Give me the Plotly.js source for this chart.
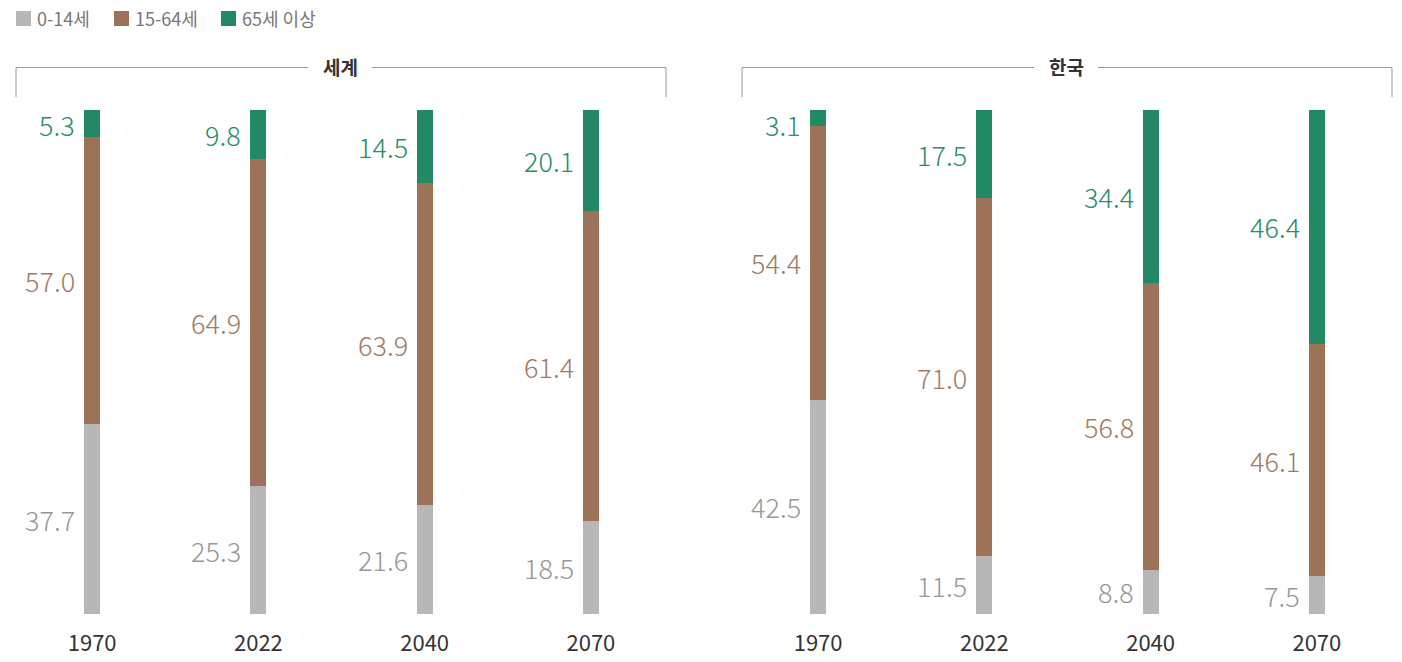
<!DOCTYPE html>
<html><head><meta charset="utf-8">
<script src="https://cdn.plot.ly/plotly-3.0.1.min.js"></script>
<style>html,body{margin:0;padding:0;background:#fff}#chart{width:1402px;height:662px}</style>
</head><body><div id="chart"></div>
<script>
const years = ["1970", "2022", "2040", "2070"];
const groups = ["세계", "한국"];
const seriesNames = ["0-14세", "15-64세", "65세 이상"];
const world_0_14 = [37.7, 25.3, 21.6, 18.5];
const world_15_64 = [57.0, 64.9, 63.9, 61.4];
const world_65 = [5.3, 9.8, 14.5, 20.1];
const korea_0_14 = [42.5, 11.5, 8.8, 7.5];
const korea_15_64 = [54.4, 71.0, 56.8, 46.1];
const korea_65 = [3.1, 17.5, 34.4, 46.4];

const barColors = ["#b6b7b6", "#9c7259", "#218a64"];
const labelColors = ["#979797", "#a07a62", "#2a8c68"];
const FONT = "'Noto Sans CJK KR', 'Noto Sans', sans-serif";

const W = 1402, H = 662, T = 110, B = 48;
const PH = H - T - B;
const px = v => v / W;
const py = v => (H - B - v) / PH;

const data = [];
const annotations = [];
const shapes = [];
const groupSeries = [[world_0_14, world_15_64, world_65], [korea_0_14, korea_15_64, korea_65]];
groupSeries.forEach((ser, g) => {
  const xa = g === 0 ? "x" : "x2";
  const ya = g === 0 ? "y" : "y2";
  ser.forEach((vals, s) => {
    data.push({
      type: "bar", x: years, y: vals, xaxis: xa, yaxis: ya,
      name: seriesNames[s], showlegend: false,
      marker: {color: barColors[s], line: {width: 0}},
      width: 0.096, hoverinfo: "skip"
    });
    vals.forEach((v, i) => {
      let base = 0;
      for (let k = 0; k < s; k++) base += ser[k][i];
      // keep labels of very thin top segments from rising above the bar top
      const yMid = Math.min(base + v / 2, 97.2);
      annotations.push({
        xref: xa, yref: ya, x: i, y: yMid,
        text: v.toFixed(1), showarrow: false, xanchor: "right", yanchor: "middle",
        xshift: -15, font: {family: FONT, size: 27, color: labelColors[s], weight: 300}
      });
    });
  });
});

// group brackets
const brackets = [[16, 666, 340], [742, 1392, 1066]];
brackets.forEach((b, g) => {
  const [x0, x1, xc] = b;
  const gap = 32;
  const mk = (xa, ya, xb, yb) => ({type: "line", xref: "paper", yref: "paper",
    x0: px(xa), x1: px(xb), y0: py(ya), y1: py(yb),
    line: {color: "#9a9a9a", width: 1}});
  shapes.push(mk(x0, 97, x0, 67.5));
  shapes.push(mk(x0, 67.5, xc - gap, 67.5));
  shapes.push(mk(xc + gap, 67.5, x1, 67.5));
  shapes.push(mk(x1, 67.5, x1, 97));
  annotations.push({xref: "paper", yref: "paper", x: px(xc), y: py(66),
    text: "<b>" + groups[g] + "</b>", showarrow: false, xanchor: "center", yanchor: "middle",
    font: {family: FONT, size: 19, color: "#333333"}});
});

// custom legend
const legendX = [16, 114, 221];
seriesNames.forEach((n, s) => {
  shapes.push({type: "rect", xref: "paper", yref: "paper",
    x0: px(legendX[s]), x1: px(legendX[s] + 15), y0: py(26), y1: py(11),
    fillcolor: barColors[s], line: {width: 0}});
  annotations.push({xref: "paper", yref: "paper", x: px(legendX[s] + 19), y: py(18),
    text: n, showarrow: false, xanchor: "left", yanchor: "middle",
    font: {family: FONT, size: 18, color: "#777777"}});
});

const xaxisBase = {type: "category", showgrid: false, zeroline: false, showline: false,
  ticks: "outside", ticklen: 10, tickcolor: "rgba(0,0,0,0)", fixedrange: true,
  tickfont: {family: FONT, size: 22, color: "#333333", weight: 400}};
const yaxisBase = {range: [0, 100], showgrid: false, zeroline: false, showline: false,
  showticklabels: false, fixedrange: true};

const layout = {
  width: W, height: H, paper_bgcolor: "#fff", plot_bgcolor: "#fff",
  margin: {l: 0, r: 0, t: T, b: B},
  barmode: "stack",
  xaxis: Object.assign({}, xaxisBase, {domain: [px(9), px(674)], anchor: "y"}),
  xaxis2: Object.assign({}, xaxisBase, {domain: [px(735), px(1400)], anchor: "y2"}),
  yaxis: Object.assign({}, yaxisBase, {anchor: "x"}),
  yaxis2: Object.assign({}, yaxisBase, {anchor: "x2"}),
  showlegend: false,
  annotations: annotations, shapes: shapes
};
Plotly.newPlot("chart", data, layout, {displayModeBar: false, staticPlot: true});
</script></body></html>
